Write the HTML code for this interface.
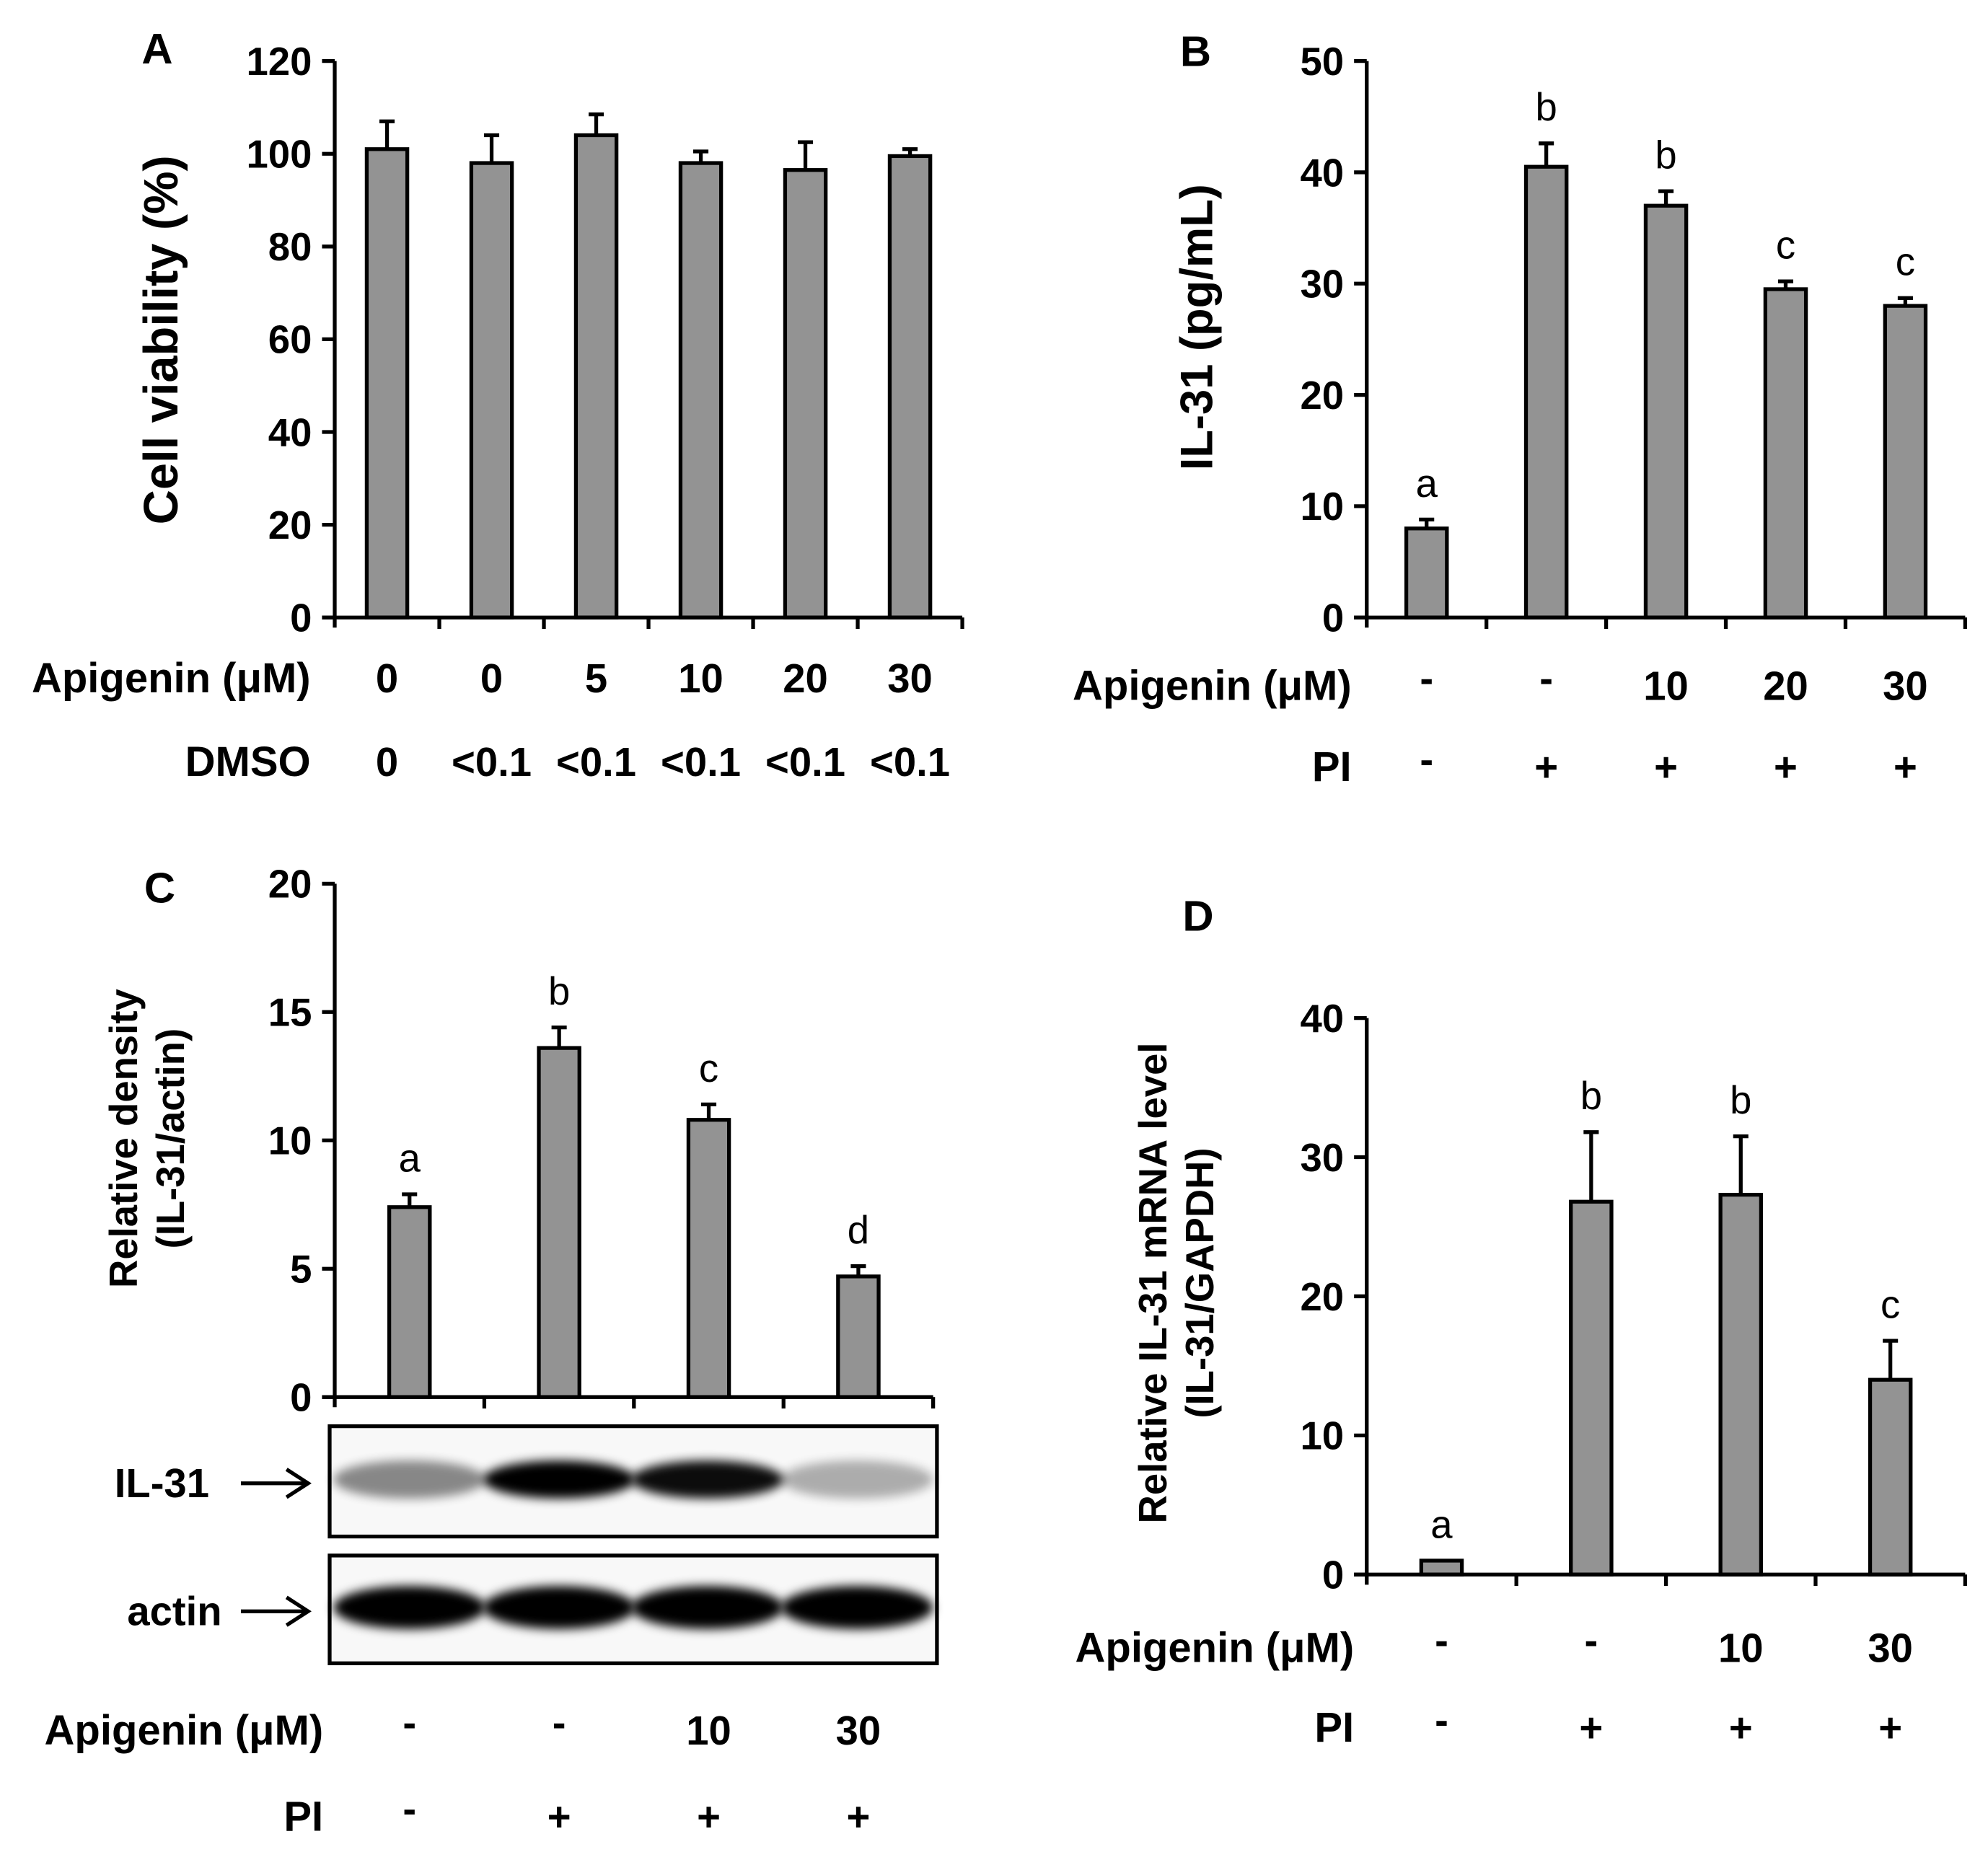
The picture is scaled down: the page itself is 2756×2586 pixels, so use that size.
<!DOCTYPE html>
<html><head><meta charset="utf-8"><style>
html,body{margin:0;padding:0;background:#fff}
svg{display:block}
text{font-family:"Liberation Sans",Arial,sans-serif}
.b{font-weight:bold}
</style></head><body>
<svg id="fig" width="2756" height="2586" viewBox="0 0 1568 1471" xmlns="http://www.w3.org/2000/svg">
<defs><filter id="blur" x="-20%" y="-50%" width="140%" height="200%"><feGaussianBlur stdDeviation="4"/></filter></defs>
<g id="root"></g>
</svg>
<script>
// Panel A
const aCats = ["0","0","5","10","20","30"];
const aDmso = ["0","<0.1","<0.1","<0.1","<0.1","<0.1"];
const aVals = [101, 98, 104, 98, 96.5, 99.5];
const aErr = [6, 6, 4.5, 2.5, 6, 1.5];
const aTicks = [0,20,40,60,80,100,120];
// Panel B
const bCats = ["-","-","10","20","30"];
const bPI = ["-","+","+","+","+"];
const bVals = [8, 40.5, 37, 29.5, 28];
const bErr = [0.8, 2.1, 1.3, 0.7, 0.7];
const bLetters = ["a","b","b","c","c"];
const bTicks = [0,10,20,30,40,50];
// Panel C
const cCats = ["-","-","10","30"];
const cPI = ["-","+","+","+"];
const cVals = [7.4, 13.6, 10.8, 4.7];
const cErr = [0.5, 0.8, 0.6, 0.4];
const cLetters = ["a","b","c","d"];
const cTicks = [0,5,10,15,20];
// Panel D
const dCats = ["-","-","10","30"];
const dPI = ["-","+","+","+"];
const dVals = [1, 26.8, 27.3, 14];
const dErr = [0, 5, 4.2, 2.8];
const dLetters = ["a","b","b","c"];
const dTicks = [0,10,20,30,40];

const NS="http://www.w3.org/2000/svg";
const root=document.getElementById('root');
function mk(tag,attrs,parent,txt){const e=document.createElementNS(NS,tag);for(const k in attrs)e.setAttribute(k,attrs[k]);if(txt!==undefined)e.textContent=txt;(parent||root).appendChild(e);return e;}

function panel(o){
  const g=mk('g',{});
  
  
  const n=o.vals.length, step=(o.x1-o.x0)/n;
  const ymax=o.ticks[o.ticks.length-1];
  const ys=v=>o.y0-(v/ymax)*(o.y0-o.yTop);
  const xc=i=>o.x0+step*(i+0.5);
  o.vals.forEach((v,i)=>{
    const bw=32;
    if(o.err[i]>0){
      const l=mk('line',{x1:xc(i),x2:xc(i),y1:ys(v),y2:ys(v+o.err[i]),stroke:'#000','stroke-width':3},g);
      
      
      const c=mk('line',{x1:xc(i)-6,x2:xc(i)+6,y1:ys(v+o.err[i]),y2:ys(v+o.err[i]),stroke:'#000','stroke-width':3},g);
      
      
    }
    const r=mk('rect',{x:xc(i)-bw/2,y:ys(v),width:bw,height:o.y0-ys(v),fill:'#939393',stroke:'#000','stroke-width':3},g);
    
    
    if(o.letters){
      const t=mk('text',{x:xc(i),y:ys(v+o.err[i])-18,'text-anchor':'middle','font-size':31},g,o.letters[i]);
      
      
    }
  });
  const ya=mk('line',{x1:o.x0,x2:o.x0,y1:o.yTop,y2:o.y0+8,stroke:'#000','stroke-width':3},g);
  
  
  const xa=mk('line',{x1:o.x0-10,x2:o.x1,y1:o.y0,y2:o.y0,stroke:'#000','stroke-width':3},g);
  
  
  for(let i=1;i<=n;i++){
    const t=mk('line',{x1:o.x0+step*i,x2:o.x0+step*i,y1:o.y0,y2:o.y0+9,stroke:'#000','stroke-width':3},g);
    
    
  }
  o.ticks.forEach(tv=>{
    const y=ys(tv);
    const tl=mk('line',{x1:o.x0-10,x2:o.x0,y1:y,y2:y,stroke:'#000','stroke-width':3},g);
    
    
    const tt=mk('text',{x:o.x0-18,y:y+11,'text-anchor':'end','font-size':31,class:'b'},g,String(tv));
    
    
  });
  o.titles.forEach((tt)=>{
    const t=mk('text',{x:0,y:0,'text-anchor':'middle','font-size':o.titleSize,class:'b',transform:`translate(${tt.x},${o.titleY}) rotate(-90)`},g,tt.s);
    
    
  });
  const pl=mk('text',{x:o.lx,y:o.ly,'text-anchor':'middle','font-size':34,class:'b'},g,o.letter);
  
  
  o.rows.forEach(row=>{
    const rl=mk('text',{x:row.lx,y:row.y,'text-anchor':'end','font-size':33,class:'b'},g,row.label);
    
    
    row.vals.forEach((s,i)=>{
      const t=mk('text',{x:xc(i),y:row.y-(s==='-'?6:0),'text-anchor':'middle','font-size':32,class:'b'},g,s);
      
      
    });
  });
  return {xc};
}

panel({name:'panel-a',x0:264,x1:759,y0:487,yTop:48,vals:aVals,err:aErr,ticks:aTicks,titleSize:38,
  titles:[{x:140,s:'Cell viability (%)'}],titleY:268,letter:'A',lx:124,ly:50,
  rows:[{label:'Apigenin (μM)',lx:245,y:546,vals:aCats},{label:'DMSO',lx:245,y:612,vals:aDmso}]});
panel({name:'panel-b',x0:1078,x1:1550,y0:487,yTop:48,vals:bVals,err:bErr,letters:bLetters,ticks:bTicks,titleSize:36,
  titles:[{x:956,s:'IL-31 (pg/mL)'}],titleY:258,letter:'B',lx:943,ly:52,
  rows:[{label:'Apigenin (μM)',lx:1066,y:552,vals:bCats},{label:'PI',lx:1066,y:616,vals:bPI}]});
panel({name:'panel-c',x0:264,x1:736,y0:1102,yTop:697,vals:cVals,err:cErr,letters:cLetters,ticks:cTicks,titleSize:31,
  titles:[{x:108,s:'Relative density'},{x:145,s:'(IL-31/actin)'}],titleY:898,letter:'C',lx:126,ly:712,
  rows:[{label:'Apigenin (μM)',lx:255,y:1376,vals:cCats},{label:'PI',lx:255,y:1444,vals:cPI}]});
panel({name:'panel-d',x0:1078,x1:1550,y0:1242,yTop:803,vals:dVals,err:dErr,letters:dLetters,ticks:dTicks,titleSize:31,
  titles:[{x:920,s:'Relative IL-31 mRNA level'},{x:957,s:'(IL-31/GAPDH)'}],titleY:1012,letter:'D',lx:945,ly:734,
  rows:[{label:'Apigenin (μM)',lx:1068,y:1311,vals:dCats},{label:'PI',lx:1068,y:1374,vals:dPI}]});

// Western blot
const blotLanes=[323,441,558,676];
const il31Int=[0.45,1,0.95,0.3];
const blot=mk('g',{});


[[1125,1212,'IL-31',1181,il31Int,1167,30],[1227,1312,'actin',1282,[1,1,1,1],1268,34]].forEach(([y0,y1,lab,ty,ints,by,bh])=>{
  const b=mk('rect',{x:260,y:y0,width:479,height:y1-y0,fill:'#f8f8f8',stroke:'#000','stroke-width':3},blot);
  
  
  ints.forEach((v,i)=>{
    const e=mk('ellipse',{cx:blotLanes[i],cy:by,rx:60,ry:bh/2,fill:'#000',opacity:v,filter:'url(#blur)'},blot);
    
    
  });
  const t=mk('text',{x:lab==='actin'?175:165,y:ty,'text-anchor':'end','font-size':32,class:'b'},blot,lab);
  
  
  const ay=ty-11;
  const ar=mk('path',{d:`M190 ${ay} H242 M226 ${ay-11} L243 ${ay} L226 ${ay+11}`,stroke:'#000','stroke-width':3,fill:'none'},blot);
  
  
});
</script>
</body></html>
